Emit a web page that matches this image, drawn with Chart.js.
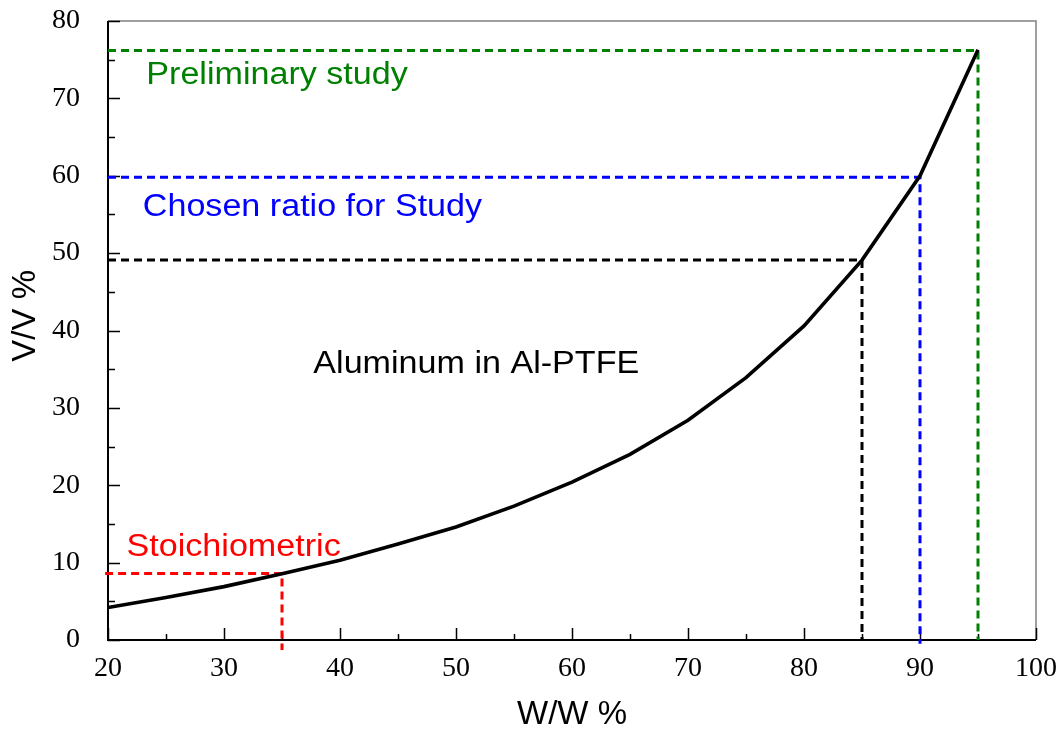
<!DOCTYPE html>
<html>
<head>
<meta charset="utf-8">
<title>Aluminum in Al-PTFE</title>
<script src="https://cdn.jsdelivr.net/npm/chart.js@4.4.0/dist/chart.umd.min.js"></script>
<style>
  html, body { margin: 0; padding: 0; background: #fff; }
  #box { width: 1062px; height: 732px; }
</style>
</head>
<body>
<div id="box"><canvas id="graf"></canvas></div>
<script>
// W/W % of aluminium and the matching V/V %
const wwPct = [20, 25, 30, 35, 40, 45, 50, 55, 60, 65, 70, 75, 80, 85, 90, 95];
const vvPct = [4.2, 5.5, 6.9, 8.55, 10.3, 12.4, 14.6, 17.3, 20.4, 24.0, 28.4, 33.9, 40.6, 49.1, 60.0, 76.3];

// marked ratios: W/W, V/V, where the dashed drop line stops, colour
const guideWW = [35, 85, 90, 95];
const guideVV = [8.6, 49.1, 59.8, 76.2];
const guideFoot = [-1.3, 0, -0.5, 0];
const guideStart = [19.75, 20, 20, 20];
const guideColors = ["#ff0000", "#000000", "#0000ff", "#008000"];

const xTicks = [20, 30, 40, 50, 60, 70, 80, 90, 100];
const yTicks = [0, 10, 20, 30, 40, 50, 60, 70, 80];

window.addEventListener("DOMContentLoaded", function() {
    const sans = "'Liberation Sans', Arial, sans-serif";
    const serif = "'Liberation Serif', 'Times New Roman', serif";

    const datasets = [{
        data: wwPct.map(function(w, i) { return { x: w, y: vvPct[i] }; }),
        borderColor: "#000",
        borderWidth: 3.6,
        pointRadius: 0,
        showLine: true,
        tension: 0
    }];
    guideWW.forEach(function(w, i) {
        datasets.push({
            data: [{ x: guideStart[i], y: guideVV[i] }, { x: w, y: guideVV[i] }, { x: w, y: guideFoot[i] }],
            borderColor: guideColors[i],
            borderWidth: 3,
            borderDash: [8, 5],
            pointRadius: 0,
            showLine: true,
            clip: false
        });
    });

    // free text on the plot, placed in data units
    const notes = [
        { text: "Preliminary study", color: "#008000", x: 23.3, y: 71.8 },
        { text: "Chosen ratio for Study", color: "#0000ff", x: 23.0, y: 54.8 },
        { text: "Aluminum in Al-PTFE", color: "#000000", x: 37.7, y: 34.45 },
        { text: "Stoichiometric", color: "#ff0000", x: 21.6, y: 10.85 }
    ];

    // no extra room for the end labels, the layout padding decides the plot box
    function bezOkraju(s) {
        s.paddingTop = 0; s.paddingBottom = 0; s.paddingLeft = 0; s.paddingRight = 0;
    }

    // frame and inward tick marks
    const ramecek = {
        id: "ramecek",
        beforeDatasetsDraw: function(chart) {
            const c = chart.ctx, a = chart.chartArea;
            const sx = chart.scales.x, sy = chart.scales.y;
            c.save();
            c.strokeStyle = "#808080";
            c.lineWidth = 1.5;
            c.beginPath();
            c.moveTo(a.left, a.top); c.lineTo(a.right, a.top); c.lineTo(a.right, a.bottom);
            c.stroke();
            c.strokeStyle = "#000";
            c.lineWidth = 2;
            c.beginPath();
            c.moveTo(a.left, a.top); c.lineTo(a.left, a.bottom); c.lineTo(a.right, a.bottom);
            c.stroke();
            c.lineWidth = 1.5;
            c.beginPath();
            for (let v = 20; v <= 100; v += 5) {
                const px = Math.round(sx.getPixelForValue(v)) + 0.5;
                c.moveTo(px, a.bottom);
                c.lineTo(px, a.bottom - (v % 10 === 0 ? 12 : 6));
            }
            for (let v = 0; v <= 80; v += 5) {
                const py = Math.round(sy.getPixelForValue(v)) + 0.5;
                c.moveTo(a.left, py);
                c.lineTo(a.left + (v % 10 === 0 ? 12 : 7), py);
            }
            c.stroke();
            c.restore();
        },
        afterDatasetsDraw: function(chart) {
            const c = chart.ctx;
            const sx = chart.scales.x, sy = chart.scales.y;
            c.save();
            c.font = "31px " + sans;
            c.textAlign = "left";
            c.textBaseline = "alphabetic";
            notes.forEach(function(n) {
                c.save();
                c.translate(sx.getPixelForValue(n.x), sy.getPixelForValue(n.y));
                c.scale(1.1, 1);
                c.fillStyle = n.color;
                c.fillText(n.text, 0, 0);
                c.restore();
            });
            // y axis title
            c.translate(25.5, sy.getPixelForValue(41.9));
            c.rotate(-Math.PI / 2);
            c.font = "33px " + sans;
            c.textAlign = "center";
            c.textBaseline = "middle";
            c.fillStyle = "#000";
            c.fillText("V/V %", 0, 0);
            c.restore();
        }
    };

    new Chart(document.getElementById("graf").getContext("2d"), {
        type: "scatter",
        data: { datasets: datasets },
        plugins: [ramecek],
        options: {
            responsive: true,
            maintainAspectRatio: false,
            animation: false,
            layout: { padding: { top: 21, right: 26, left: 0, bottom: 0 } },
            plugins: { legend: { display: false }, tooltip: { enabled: false } },
            scales: {
                x: {
                    type: "linear", min: 20, max: 100,
                    grid: { display: false }, border: { display: false },
                    afterBuildTicks: function(s) { s.ticks = xTicks.map(function(v) { return { value: v }; }); },
                    afterFit: function(s) { s.height = 92; bezOkraju(s); },
                    ticks: { color: "#000", padding: 7, font: { family: serif, size: 28, lineHeight: 1 }, maxRotation: 0 },
                    title: { display: true, text: "W/W %", color: "#000", font: { family: sans, size: 33, lineHeight: 1 }, padding: { top: 0, bottom: 1 } }
                },
                y: {
                    type: "linear", min: 0, max: 80,
                    grid: { display: false }, border: { display: false },
                    afterBuildTicks: function(s) { s.ticks = yTicks.map(function(v) { return { value: v }; }); },
                    afterFit: function(s) { s.width = 108; bezOkraju(s); },
                    ticks: { color: "#000", padding: 20, font: { family: serif, size: 28, lineHeight: 1 } }
                }
            }
        }
    });
});
</script>
</body>
</html>
